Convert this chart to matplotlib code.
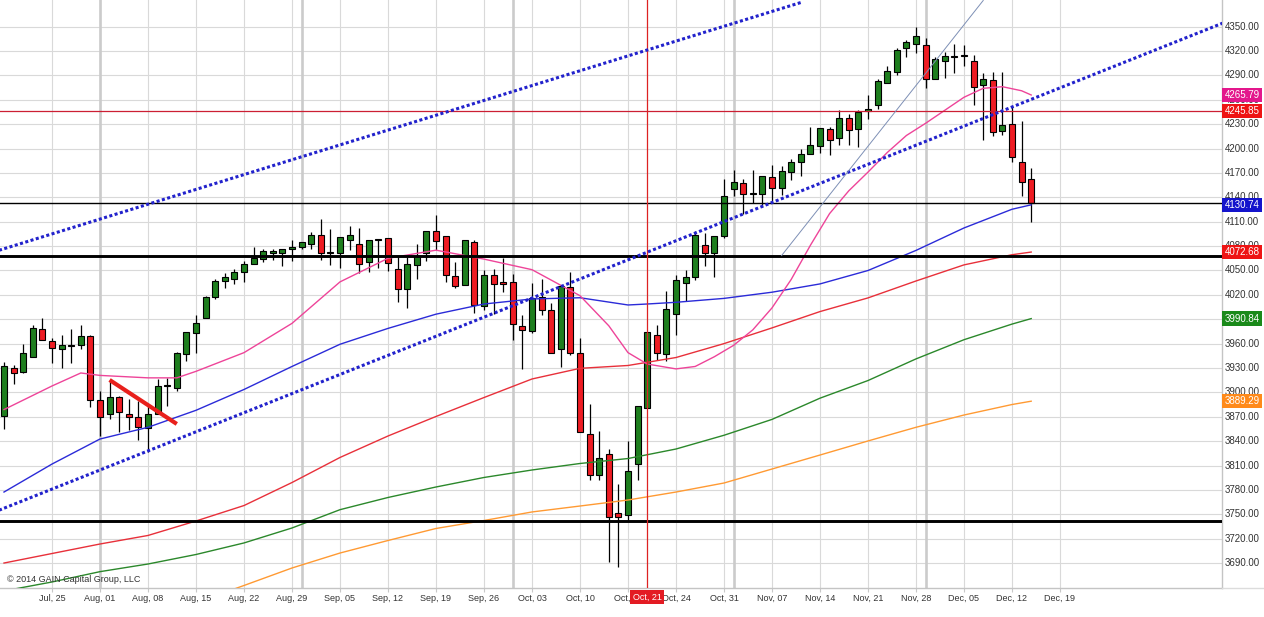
import numpy as np
import pandas as pd
import matplotlib
matplotlib.use("Agg")
import matplotlib.pyplot as plt
from matplotlib.transforms import blended_transform_factory
from matplotlib.lines import Line2D

plt.rcParams['font.family'] = ['Liberation Sans', 'DejaVu Sans']

# ---------------- data ----------------
start_date = "2014-07-18"   # first candle (weekday slots)

opens = [3871, 3930, 3925, 3944, 3978, 3963, 3954, 3959, 3958, 3970,
         3891, 3873, 3895, 3874, 3870, 3856, 3874, 3908, 3906, 3947,
         3973, 3991, 4017, 4037, 4040, 4048, 4058, 4064, 4072, 4071,
         4076, 4079, 4083, 4094, 4073, 4072, 4088, 4083, 4060, 4087,
         4090, 4052, 4027, 4057, 4071, 4098, 4092, 4043, 4032, 4085,
         4006, 4045, 4036, 4036, 3982, 3976, 4018, 4001, 3953, 4030,
         3948, 3849, 3798, 3824, 3752, 3749, 3812, 3881, 3971, 3947,
         3996, 4035, 4042, 4081, 4072, 4092, 4150, 4157, 4144.5, 4144,
         4165, 4152, 4171, 4183, 4193, 4203, 4224, 4213, 4238, 4224,
         4246, 4254, 4281, 4294, 4323, 4329, 4327, 4286, 4308, 4313.5,
         4315, 4308, 4278, 4284, 4222, 4230, 4184, 4162]
highs = [3937, 3934, 3960, 3983, 3991, 3967, 3971, 3978, 3983, 3971,
         3902, 3915, 3896, 3892, 3889, 3885, 3917, 3918, 3950, 3974,
         3995, 4019, 4040, 4047, 4052, 4062, 4079, 4077, 4077, 4076,
         4087, 4085, 4097, 4113, 4101, 4091, 4105, 4102, 4088, 4089,
         4090, 4067, 4067, 4083, 4099, 4118, 4092, 4061, 4088, 4088,
         4051, 4052, 4065, 4046, 3995, 4035, 4040, 4010, 4031, 4048,
         3967, 3886, 3853, 3831, 3788, 3840, 3883, 3974, 3983, 4025,
         4045, 4051, 4098, 4096, 4092, 4163, 4174, 4163, 4173, 4166,
         4180, 4178, 4187, 4199, 4227, 4225, 4227, 4247, 4242, 4247,
         4266, 4286, 4302, 4323, 4334, 4349, 4336, 4313, 4319, 4329,
         4327, 4315, 4293, 4294, 4294, 4252, 4234, 4176]
lows = [3855, 3910, 3924, 3944, 3964, 3936, 3930, 3936, 3954, 3882,
        3847, 3868, 3852, 3854, 3842, 3827, 3874, 3883, 3902, 3939,
        3948, 3991, 4015, 4029, 4033, 4036, 4058, 4061, 4063, 4055,
        4062, 4076, 4076, 4063, 4057, 4053, 4075, 4047, 4048, 4053,
        4049, 4011, 4004, 4040, 4062, 4075, 4036, 4028, 4032, 3998,
        4002, 3997, 4024, 3965, 3929, 3973, 3995, 3948, 3931, 3946,
        3852, 3792, 3793, 3692, 3685, 3743, 3792, 3881, 3940, 3939,
        3971, 4012, 4038, 4056, 4042, 4090, 4142, 4120, 4133, 4128,
        4135, 4143, 4161, 4166, 4193, 4194, 4192, 4204, 4204, 4202,
        4236, 4248, 4280, 4290, 4313, 4318, 4274, 4285, 4287, 4293,
        4302, 4254, 4211, 4215, 4217, 4184, 4141, 4110]
closes = [3932, 3924, 3948, 3979, 3965, 3955, 3959, 3957, 3970, 3891,
          3870, 3894, 3876, 3870, 3857, 3874, 3908, 3908.5, 3948, 3974,
          3986, 4017, 4037, 4042, 4048, 4058, 4065, 4074, 4074, 4076,
          4079, 4085, 4094, 4071, 4071, 4091, 4094, 4058, 4088, 4089,
          4059, 4027, 4058, 4068, 4099, 4086, 4045, 4031, 4087, 4008,
          4044, 4034, 4034, 3984, 3977, 4016, 4002, 3949, 4031, 3949,
          3852, 3798, 3820, 3747, 3747, 3804, 3883, 3974, 3948, 4003,
          4038, 4042, 4094, 4072, 4092, 4142, 4159, 4144, 4144.5, 4166,
          4151, 4172, 4184, 4193, 4204, 4225, 4211, 4237, 4223, 4245,
          4249, 4283, 4295, 4321, 4331, 4338, 4286, 4310, 4314, 4312.5,
          4314, 4276, 4286, 4220, 4229, 4189, 4159, 4133]

# moving averages read at day indices
pink_idx = [0, 5, 8, 10, 15, 18, 20, 25, 30, 35, 40, 45, 50, 55, 60, 63, 65, 67, 70, 72,
            74, 76, 78, 80, 82, 84, 86, 88, 90, 92, 94, 96, 98, 100, 102, 104, 106, 107]
pink_vals = [3879, 3908, 3924, 3921, 3918, 3918, 3926, 3949, 3985, 4036, 4065, 4075, 4064, 4051,
             4019, 3982, 3949, 3935, 3929, 3932, 3944, 3958, 3977, 4004, 4039, 4081, 4120, 4148,
             4171, 4195, 4216, 4231, 4247, 4263, 4274, 4276, 4271, 4265.79]
blue_idx = [0, 5, 10, 15, 20, 25, 30, 35, 40, 45, 50, 55, 60, 65, 67, 70, 75, 80, 85, 90,
            95, 100, 105, 107]
blue_vals = [3777.6, 3812, 3842.8, 3857.2, 3878.1, 3903.7, 3932, 3959.3, 3978.8, 3996.3, 4008.8,
             4015, 4016.5, 4007.6, 4008.8, 4010.9, 4015.7, 4023.3, 4033.5, 4050, 4074.7, 4102.3,
             4125.3, 4130.74]
red_idx = [0, 5, 10, 15, 20, 25, 30, 35, 40, 45, 50, 55, 60, 65, 70, 75, 80, 85, 90, 95,
           100, 105, 107]
red_vals = [3690.3, 3702, 3713.7, 3724.2, 3742, 3761, 3789.3, 3820.1, 3846.5, 3870.5, 3893.8,
            3916.6, 3929.7, 3933.2, 3943, 3960.1, 3979.4, 3999.5, 4016.3, 4037.1, 4056.9,
            4069.4, 4072.68]
green_idx = [0, 5, 10, 15, 20, 25, 30, 35, 40, 45, 50, 55, 60, 65, 70, 75, 80, 85, 90, 95,
             100, 105, 107]
green_vals = [3656, 3667, 3679.7, 3689.1, 3700.8, 3715, 3733.4, 3755.9, 3770.9, 3783.8, 3795.5,
              3804.7, 3812.7, 3818.8, 3830.5, 3847.4, 3866.9, 3893, 3914.7, 3941.3, 3964.9,
              3984.1, 3990.84]
orange_idx = [22, 25, 30, 35, 40, 45, 50, 55, 60, 65, 70, 75, 80, 85, 90, 95, 100, 105, 107]
orange_vals = [3650, 3662.7, 3684.2, 3702.6, 3718, 3732.8, 3742.6, 3753.1, 3760.4, 3767.8,
               3777.6, 3788.7, 3805.9, 3823.1, 3840.4, 3857.2, 3872.3, 3885.2, 3889.29]

# drawn studies (day index, price)
channel_upper_idx = [-1, 83]
channel_upper_val = [4073.1, 4379.5]
channel_lower_idx = [-1, 127]
channel_lower_val = [3753.0, 4354.4]
steep_line_idx = [81, 102]
steep_line_val = [4068.4, 4382.0]
red_trend_idx = [11, 18]
red_trend_val = [3915.4, 3861.3]

h_red_level = 4245.85
h_black_thin = 4133
h_black_thick = [4068, 3742]
highlight_idx = 67
highlight_label = "Oct, 21"

price_ticks = list(range(3690, 4351, 30))
tick_labels = ["Jul, 25", "Aug, 01", "Aug, 08", "Aug, 15", "Aug, 22", "Aug, 29", "Sep, 05",
               "Sep, 12", "Sep, 19", "Sep, 26", "Oct, 03", "Oct, 10", "Oct, 17", "Oct, 24",
               "Oct, 31", "Nov, 07", "Nov, 14", "Nov, 21", "Nov, 28", "Dec, 05", "Dec, 12",
               "Dec, 19"]
box_values = [4265.79, 4245.85, 4130.74, 4072.68, 3990.84, 3889.29]
box_colors = ["#e3178c", "#ee1414", "#1414cc", "#ee1414", "#1a8a1a", "#ff8a1a"]

# ---------------- figure ----------------
W, H = 1264, 617
AX_W, AX_H = 1222, 588
SLOT = 9.6
fig = plt.figure(figsize=(W / 100, H / 100), dpi=100)
fig.patch.set_facecolor("white")
ax = fig.add_axes([0, (H - AX_H) / H, AX_W / W, AX_H / H])
ax.set_facecolor("white")
x_left = -4 / SLOT
ax.set_xlim(x_left, x_left + AX_W / SLOT)
ax.set_ylim(3659.6, 4382.6)

dates = pd.bdate_range(start_date, periods=111)
friday_idx = [i for i, d in enumerate(dates) if d.weekday() == 4][1:]
month_idx = [i for i in range(1, len(dates)) if dates[i].month != dates[i - 1].month]

# grid
for v in price_ticks:
    ax.axhline(v, color="#d9d9d9", lw=0.8, zorder=0)
for i in friday_idx:
    ax.axvline(i, color="#d9d9d9", lw=0.8, zorder=0)
for i in month_idx:
    ax.axvline(i, color="#cbcbcb", lw=1.9, zorder=0)

# candles
idx = np.arange(len(opens))
o = np.array(opens, float); h = np.array(highs, float)
l = np.array(lows, float); c = np.array(closes, float)
up = c >= o
ax.vlines(idx, l, h, color="black", lw=0.9, zorder=3)
bottom = np.minimum(o, c)
height = np.maximum(np.abs(c - o), 0.9)
ax.bar(idx[up], height[up], bottom=bottom[up], width=0.64, color="#1e7e1e",
       edgecolor="black", linewidth=0.8, zorder=3.2)
ax.bar(idx[~up], height[~up], bottom=bottom[~up], width=0.64, color="#ee1c23",
       edgecolor="black", linewidth=0.8, zorder=3.2)

# moving averages
ax.plot(orange_idx, orange_vals, color="#ff9a33", lw=1.0, zorder=4)
ax.plot(green_idx, green_vals, color="#2b882b", lw=1.0, zorder=4)
ax.plot(red_idx, red_vals, color="#e8303a", lw=1.0, zorder=4)
ax.plot(blue_idx, blue_vals, color="#2b2bd8", lw=1.0, zorder=4)
ax.plot(pink_idx, pink_vals, color="#ee4499", lw=1.0, zorder=4)

# horizontal / vertical lines
ax.axhline(h_red_level, color="#cc1f33", lw=0.9, zorder=4)
ax.axhline(h_black_thin, color="black", lw=1.0, zorder=4)
for v in h_black_thick:
    ax.axhline(v, color="black", lw=2.1, zorder=4)
ax.axvline(highlight_idx, color="#dd2222", lw=0.9, zorder=4)

# trend lines
dots = (0, (1, 0.8))
ax.plot(channel_upper_idx, channel_upper_val, color="#2222cc", lw=2.2, linestyle=dots, zorder=5)
ax.plot(channel_lower_idx, channel_lower_val, color="#2222cc", lw=2.2, linestyle=dots, zorder=5)
ax.plot(steep_line_idx, steep_line_val, color="#7d8fb5", lw=0.7, zorder=5)
ax.plot(red_trend_idx, red_trend_val, color="#e8201c", lw=3.0, solid_capstyle="butt", zorder=5)

# spines
for s in ("top", "left"):
    ax.spines[s].set_visible(False)
for s in ("bottom", "right"):
    ax.spines[s].set_color("#c4c4c4")
    ax.spines[s].set_linewidth(1.0)
ax.set_yticks([])
ax.set_xticks(friday_idx)
ax.set_xticklabels(tick_labels)
ax.tick_params(axis="x", length=3, width=0.8, color="#c8c8c8", labelsize=6.5,
               labelcolor="#333333", pad=1.5)

# price labels on right
tr = blended_transform_factory(ax.transAxes, ax.transData)
xl = 1 + 2.5 / AX_W
for v in price_ticks:
    ax.text(xl, v, f"{v:.2f}", transform=tr, fontsize=7, color="#333333",
            ha="left", va="center", clip_on=False, zorder=6)
for v, col in zip(box_values, box_colors):
    ax.text(xl, v, f"{v:.2f}", transform=tr, fontsize=7, color="white",
            ha="left", va="center", clip_on=False, zorder=7,
            bbox=dict(boxstyle="square,pad=0.22", fc=col, ec="none"))

# highlighted date label
trx = blended_transform_factory(ax.transData, ax.transAxes)
ax.text(highlight_idx, -9 / AX_H, highlight_label, transform=trx, fontsize=6.5,
        color="white", ha="center", va="center", clip_on=False, zorder=10,
        bbox=dict(boxstyle="square,pad=0.3", fc="#e31b23", ec="none"))

# extra baseline to right edge
yb = (H - AX_H) / H
fig.add_artist(Line2D([AX_W / W, 1.0], [yb, yb], color="#dcdcdc", lw=1.0))

fig.text(7 / W, 1 - 579 / H, "\u00a9 2014 GAIN Capital Group, LLC", fontsize=6.5,
         color="#333333", ha="left", va="center")

fig.savefig("out.png", dpi=100, facecolor="white")
